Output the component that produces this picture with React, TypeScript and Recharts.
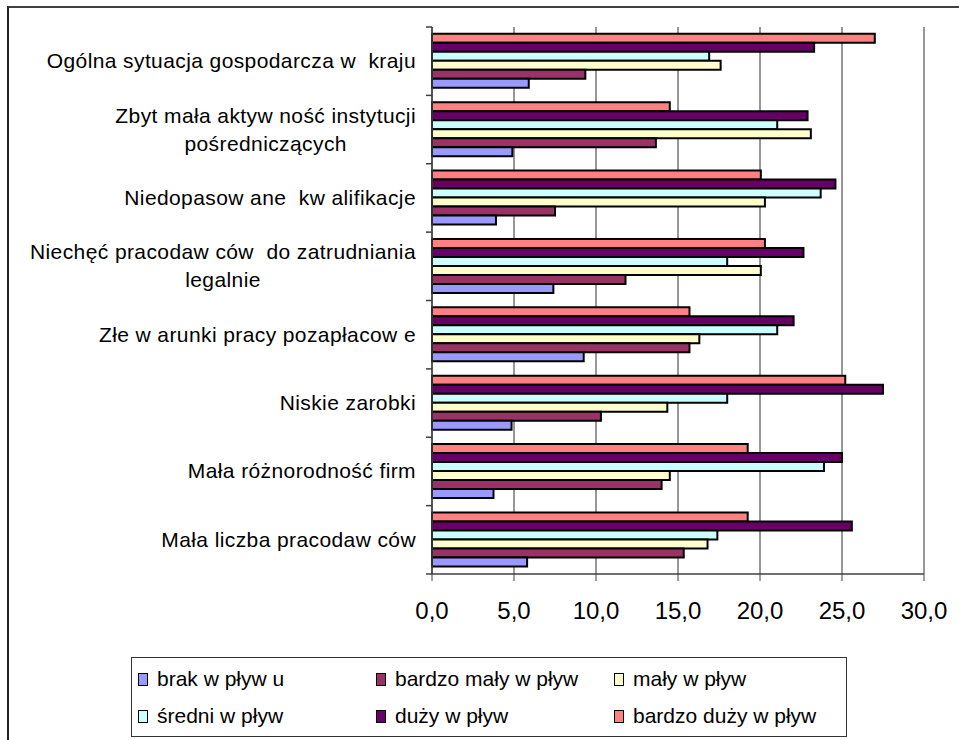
import { BarChart, Bar, XAxis, YAxis, CartesianGrid } from "recharts";

const categories = [
  "Ogólna sytuacja gospodarcza w  kraju",
  "Zbyt mała aktyw ność instytucji\npośredniczących",
  "Niedopasow ane  kw alifikacje",
  "Niechęć pracodaw ców  do zatrudniania\nlegalnie",
  "Złe w arunki pracy pozapłacow e",
  "Niskie zarobki",
  "Mała różnorodność firm",
  "Mała liczba pracodaw ców",
];

const brak = [5.9, 4.9, 3.9, 7.4, 9.25, 4.85, 3.75, 5.8];
const bardzoMaly = [9.35, 13.65, 7.5, 11.8, 15.7, 10.3, 14.0, 15.35];
const maly = [17.6, 23.1, 20.3, 20.05, 16.3, 14.35, 14.5, 16.8];
const sredni = [16.9, 21.05, 23.7, 18.0, 21.05, 18.0, 23.9, 17.4];
const duzy = [23.3, 22.9, 24.6, 22.65, 22.05, 27.5, 25.0, 25.6];
const bardzoDuzy = [27.0, 14.5, 20.05, 20.3, 15.7, 25.2, 19.25, 19.25];

const xTicks = [0, 5, 10, 15, 20, 25, 30];

// legend order as in the original (two rows of three)
const series = [
  { key: "brak", name: "brak w pływ u", color: "#9999FF" },
  { key: "bardzoMaly", name: "bardzo mały w pływ", color: "#993366" },
  { key: "maly", name: "mały w pływ", color: "#FFFFCC" },
  { key: "sredni", name: "średni w pływ", color: "#CCFFFF" },
  { key: "duzy", name: "duży w pływ", color: "#660066" },
  { key: "bardzoDuzy", name: "bardzo duży w pływ", color: "#FF8080" },
];

const data = categories.map((c, i) => ({
  category: c,
  brak: brak[i],
  bardzoMaly: bardzoMaly[i],
  maly: maly[i],
  sredni: sredni[i],
  duzy: duzy[i],
  bardzoDuzy: bardzoDuzy[i],
}));

const W = 959;
const H = 740;
const PLOT_LEFT = 432;
const PLOT_TOP = 27;
const PLOT_RIGHT = 924;
const PLOT_BOTTOM = 574;
const X_AXIS_H = 40;
const BAND = (PLOT_BOTTOM - PLOT_TOP) / categories.length;
const FONT = "'Liberation Sans', Arial, sans-serif";
const LINE_H = 28;

const CategoryTick = ({ y, payload, index }: any) => {
  const lines = String(payload.value).split("\n");
  const boxH = lines.length * LINE_H;
  return (
    <g>
      <line
        x1={PLOT_LEFT - 6}
        x2={PLOT_LEFT}
        y1={y - BAND / 2}
        y2={y - BAND / 2}
        stroke="#404040"
        strokeWidth={1.5}
      />
      {index === categories.length - 1 && (
        <line
          x1={PLOT_LEFT - 6}
          x2={PLOT_LEFT}
          y1={y + BAND / 2}
          y2={y + BAND / 2}
          stroke="#404040"
          strokeWidth={1.5}
        />
      )}
      <foreignObject x={0} y={y - boxH / 2} width={416} height={boxH}>
        <div style={{ display: "flex", justifyContent: "flex-end" }}>
          <div
            style={{
              textAlign: "center",
              whiteSpace: "pre",
              lineHeight: `${LINE_H}px`,
              fontSize: 21,
              letterSpacing: 0.4,
              fontFamily: FONT,
              color: "#000",
            }}
          >
            {lines.map((l, k) => (
              <div key={k}>{l}</div>
            ))}
          </div>
        </div>
      </foreignObject>
    </g>
  );
};

export default function App() {
  const barOrder = [...series].reverse();
  return (
    <div style={{ position: "absolute", left: 0, top: 0, width: W, height: H, background: "#fff", overflow: "hidden" }}>
      <div
        style={{
          position: "absolute",
          left: 7,
          top: 6,
          width: W,
          height: H,
          borderLeft: "2px solid #222",
          borderTop: "2px solid #404040",
        }}
      />
      <div style={{ position: "absolute", left: 0, top: 0 }}>
        <BarChart
          width={W}
          height={H}
          data={data}
          layout="vertical"
          margin={{ top: PLOT_TOP, right: W - PLOT_RIGHT, bottom: H - PLOT_BOTTOM - X_AXIS_H, left: 0 }}
          barCategoryGap="10%"
          barGap={0}
        >
          <CartesianGrid horizontal={false} vertical stroke="#303030" strokeWidth={1} />
          <XAxis
            type="number"
            domain={[0, 30]}
            ticks={xTicks}
            interval={0}
            height={X_AXIS_H}
            tickSize={7}
            tickMargin={21}
            axisLine={{ stroke: "#404040", strokeWidth: 1.5 }}
            tickLine={{ stroke: "#404040" }}
            tick={{ fill: "#000", fontSize: 24, fontFamily: FONT }}
            tickFormatter={(v: number) => v.toFixed(1).replace(".", ",")}
          />
          <XAxis
            xAxisId="top"
            orientation="top"
            type="number"
            domain={[0, 30]}
            height={0}
            tick={false}
            tickLine={false}
            axisLine={{ stroke: "#8c8c8c", strokeWidth: 2 }}
          />
          <YAxis
            type="category"
            dataKey="category"
            width={PLOT_LEFT}
            tickLine={false}
            interval={0}
            axisLine={{ stroke: "#404040", strokeWidth: 1.5 }}
            tick={<CategoryTick />}
          />
          {barOrder.map((s) => (
            <Bar
              key={s.key}
              dataKey={s.key}
              name={s.name}
              fill={s.color}
              stroke="#000"
              strokeWidth={2}
              isAnimationActive={false}
            />
          ))}
        </BarChart>
      </div>
      <div
        style={{
          position: "absolute",
          left: 131,
          top: 657,
          width: 716,
          height: 80,
          border: "1px solid #333",
          boxSizing: "border-box",
          fontFamily: FONT,
          fontSize: 21,
        }}
      >
        {series.map((s, i) => {
          const col = i % 3;
          const row = Math.floor(i / 3);
          const left = [6, 244, 482][col];
          const top = row === 0 ? 21 : 58;
          return (
            <div
              key={s.key}
              style={{ position: "absolute", left, top: top - 14, height: 28, display: "flex", alignItems: "center", whiteSpace: "pre" }}
            >
              <span
                style={{
                  display: "inline-block",
                  width: 8,
                  height: 11,
                  background: s.color,
                  border: "1.5px solid #000",
                  marginRight: 9,
                }}
              />
              <span>{s.name}</span>
            </div>
          );
        })}
      </div>
    </div>
  );
}
